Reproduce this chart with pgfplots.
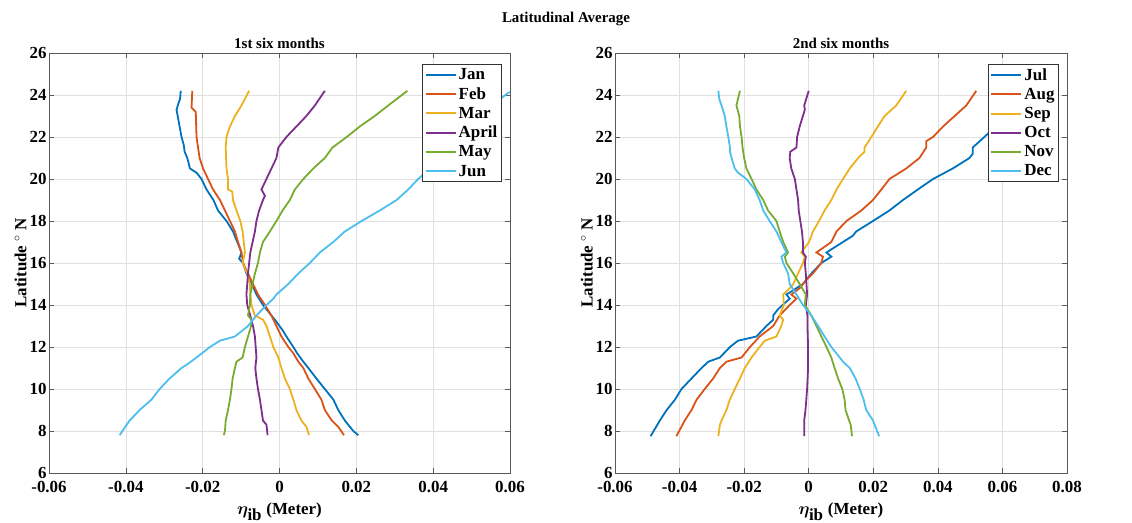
\documentclass[border=0pt]{standalone}
\usepackage{pgfplots}
\pgfplotsset{compat=1.18}
\usepackage{fontspec}
\setmainfont{Liberation Serif}
\usepackage{bm}
\definecolor{c1}{rgb}{0,0.447,0.741}
\definecolor{c2}{rgb}{0.85,0.325,0.098}
\definecolor{c3}{rgb}{0.929,0.694,0.125}
\definecolor{c4}{rgb}{0.494,0.184,0.556}
\definecolor{c5}{rgb}{0.466,0.674,0.188}
\definecolor{c6}{rgb}{0.301,0.745,0.933}
\pgfplotsset{
  myax/.style={
    scale only axis, height=420bp,
    ymin=6, ymax=26, ytick={6,8,...,26},
    scaled x ticks=false, scaled y ticks=false,
    axis line style={black!65, line width=0.8bp},
    tick style={black!65, line width=0.6bp},
    major tick length=5bp,
    tick align=inside,
    grid=major, grid style={black!12, line width=0.5bp},
    /pgf/number format/assume math mode=true,
    tick label style={font=\fontsize{17}{17}\selectfont\bfseries},
    xticklabel style={yshift=-5bp},
    yticklabel style={xshift=1bp},
    label style={font=\fontsize{17}{17}\selectfont\bfseries},
    title style={font=\fontsize{15}{15}\selectfont\bfseries, yshift=-5bp},
    xlabel={$\bm{\eta}_{\textbf{ib}}$ (Meter)},
    ylabel={Latitude $^\circ$ N},
    xlabel style={yshift=-3bp},
    ylabel style={yshift=-4bp},
    legend style={at={(0.982,0.974)}, anchor=north east, draw=black!80, line width=0.8bp,
      font=\fontsize{17}{18}\selectfont\bfseries, row sep=2.5bp, inner sep=2bp,
      cells={anchor=west}},
    legend image code/.code={\draw[#1, line width=2bp] (0bp,0bp) -- (30bp,0bp);},
    every axis plot/.append style={line width=1.8bp, no marks},
  }
}
\begin{document}
\begin{tikzpicture}[x=1bp,y=1bp]
\useasboundingbox (0,0) rectangle (1132,523);
\node[font=\fontsize{15}{15}\selectfont\bfseries] at (566,504) {Latitudinal Average};
\begin{axis}[myax, at={(49bp,50bp)}, anchor=south west, width=461bp,
  xmin=-0.06, xmax=0.06, xtick={-0.06,-0.04,-0.02,0,0.02,0.04,0.06},
  xticklabels={-0.06,-0.04,-0.02,0,0.02,0.04,0.06},
  title={1st six months}]
\addplot[c1] coordinates {(0.0205,7.8)(0.0192,8)(0.0170,8.5)(0.0153,9)(0.0140,9.5)(0.0118,10)(0.0096,10.5)(0.0075,11)(0.0062,11.3)(0.0046,11.7)(0.0036,12)(0.0018,12.5)(0.0008,12.8)(-0.0008,13.2)(-0.0021,13.5)(-0.0043,14)(-0.0060,14.5)(-0.0072,15)(-0.0086,15.5)(-0.0095,16)(-0.0105,16.2)(-0.0099,16.5)(-0.0110,17)(-0.0121,17.5)(-0.0138,18)(-0.0160,18.5)(-0.0172,19)(-0.0190,19.5)(-0.0203,20)(-0.0216,20.3)(-0.0233,20.5)(-0.0240,21)(-0.0247,21.3)(-0.0249,21.6)(-0.0255,22)(-0.0262,22.7)(-0.0268,23.3)(-0.0263,23.6)(-0.0259,23.8)(-0.0257,24.2)};
\addplot[c2] coordinates {(0.0168,7.8)(0.0153,8.2)(0.0136,8.5)(0.0118,9)(0.0109,9.5)(0.0092,10)(0.0075,10.5)(0.0062,11)(0.0049,11.3)(0.0036,11.7)(0.0023,12)(0.0005,12.5)(-0.0008,13)(-0.0021,13.5)(-0.0038,14)(-0.0056,14.5)(-0.0069,15)(-0.0082,15.5)(-0.0095,16)(-0.0099,16.5)(-0.0108,17)(-0.0116,17.5)(-0.0129,18)(-0.0142,18.5)(-0.0155,19)(-0.0173,19.5)(-0.0186,20)(-0.0199,20.5)(-0.0208,21)(-0.0212,21.5)(-0.0216,22)(-0.0217,22.6)(-0.0218,23.2)(-0.0229,23.4)(-0.0228,23.8)(-0.0227,24.2)};
\addplot[c3] coordinates {(0.0077,7.8)(0.0070,8.2)(0.0057,8.5)(0.0044,9)(0.0036,9.5)(0.0027,10)(0.0014,10.5)(0.0005,11)(-0.0003,11.5)(-0.0016,12)(-0.0025,12.5)(-0.0034,13)(-0.0043,13.3)(-0.0064,13.5)(-0.0073,14)(-0.0076,14.5)(-0.0077,15)(-0.0084,15.5)(-0.0096,16)(-0.0090,16.5)(-0.0093,17)(-0.0096,17.5)(-0.0102,18)(-0.0112,18.5)(-0.0121,19)(-0.0123,19.4)(-0.0134,19.5)(-0.0134,20)(-0.0138,20.5)(-0.0140,21.5)(-0.0138,22)(-0.0129,22.5)(-0.0116,23)(-0.0099,23.5)(-0.0079,24.2)};
\addplot[c4] coordinates {(-0.0031,7.8)(-0.0034,8.3)(-0.0043,8.5)(-0.0047,9)(-0.0051,9.5)(-0.0056,10)(-0.0060,10.5)(-0.0063,11)(-0.0060,11.5)(-0.0062,12)(-0.0064,12.5)(-0.0069,13)(-0.0076,13.5)(-0.0084,14)(-0.0086,14.5)(-0.0084,15)(-0.0082,15.5)(-0.0079,16)(-0.0076,16.5)(-0.0070,17)(-0.0064,17.5)(-0.0060,18)(-0.0053,18.5)(-0.0043,19)(-0.0038,19.2)(-0.0047,19.5)(-0.0034,20)(-0.0021,20.5)(-0.0008,21)(-0.0003,21.5)(0.0018,22)(0.0044,22.5)(0.0070,23)(0.0092,23.5)(0.0118,24.2)};
\addplot[c5] coordinates {(-0.0145,7.8)(-0.0142,8)(-0.0140,8.5)(-0.0134,9)(-0.0129,9.5)(-0.0125,10)(-0.0122,10.5)(-0.0116,11)(-0.0112,11.3)(-0.0096,11.5)(-0.0090,12)(-0.0082,12.5)(-0.0074,13)(-0.0073,13.3)(-0.0082,13.5)(-0.0077,14)(-0.0076,14.5)(-0.0070,15)(-0.0064,15.5)(-0.0056,16)(-0.0051,16.5)(-0.0043,17)(-0.0025,17.5)(-0.0008,18)(0.0008,18.5)(0.0027,19)(0.0040,19.5)(0.0062,20)(0.0088,20.5)(0.0118,21)(0.0138,21.5)(0.0175,22)(0.0209,22.5)(0.0248,23)(0.0283,23.5)(0.0333,24.2)};
\addplot[c6] coordinates {(-0.0416,7.8)(-0.0409,8)(-0.0390,8.5)(-0.0364,9)(-0.0333,9.5)(-0.0312,10)(-0.0286,10.5)(-0.0255,11)(-0.0238,11.2)(-0.0216,11.5)(-0.0181,12)(-0.0155,12.3)(-0.0116,12.5)(-0.0082,13)(-0.0060,13.5)(-0.0034,14)(-0.0016,14.3)(-0.0008,14.5)(0.0023,15)(0.0049,15.5)(0.0079,16)(0.0105,16.5)(0.0140,17)(0.0170,17.5)(0.0214,18)(0.0261,18.5)(0.0305,19)(0.0335,19.5)(0.0361,20)(0.0392,20.5)(0.0425,21)(0.0480,22)(0.0535,23)(0.0574,23.8)(0.0595,24.1)(0.0625,24.3)};
\legend{Jan,Feb,Mar,April,May,Jun}
\end{axis}
\begin{axis}[myax, at={(615bp,50bp)}, anchor=south west, width=452bp,
  xmin=-0.06, xmax=0.08, xtick={-0.06,-0.04,-0.02,0,0.02,0.04,0.06,0.08},
  xticklabels={-0.06,-0.04,-0.02,0,0.02,0.04,0.06,0.08},
  title={2nd six months}]
\addplot[c1] coordinates {(-0.0490,7.75)(-0.0461,8.5)(-0.0440,9)(-0.0414,9.5)(-0.0394,10)(-0.0363,10.5)(-0.0332,11)(-0.0311,11.3)(-0.0275,11.5)(-0.0244,12)(-0.0219,12.3)(-0.0162,12.5)(-0.0131,13)(-0.0110,13.3)(-0.0110,13.5)(-0.0095,13.8)(-0.0059,14.3)(-0.0069,14.5)(-0.0038,14.8)(-0.0018,15)(0.0008,15.5)(0.0039,16)(0.0070,16.3)(0.0055,16.5)(0.0106,17)(0.0137,17.3)(0.0147,17.5)(0.0199,18)(0.0250,18.5)(0.0292,19)(0.0338,19.5)(0.0385,20)(0.0446,20.5)(0.0498,21)(0.0508,21.2)(0.0508,21.5)(0.0544,22)(0.0565,22.3)(0.0610,23)(0.0660,23.6)(0.0700,24.2)};
\addplot[c2] coordinates {(-0.0410,7.75)(-0.0384,8.5)(-0.0363,9)(-0.0347,9.5)(-0.0322,10)(-0.0296,10.5)(-0.0275,11)(-0.0255,11.3)(-0.0208,11.5)(-0.0182,12)(-0.0152,12.5)(-0.0110,13)(-0.0090,13.5)(-0.0059,14)(-0.0038,14.3)(-0.0054,14.5)(-0.0028,14.8)(-0.0007,15.2)(0.0013,15.5)(0.0039,16)(0.0044,16.3)(0.0024,16.5)(0.0070,17)(0.0086,17.5)(0.0117,18)(0.0163,18.5)(0.0199,19)(0.0225,19.5)(0.0250,20)(0.0302,20.5)(0.0343,21)(0.0364,21.5)(0.0364,21.8)(0.0385,22)(0.0416,22.5)(0.0452,23)(0.0488,23.5)(0.0519,24.2)};
\addplot[c3] coordinates {(-0.0280,7.75)(-0.0275,8.3)(-0.0270,8.5)(-0.0255,9)(-0.0244,9.5)(-0.0229,10)(-0.0213,10.5)(-0.0198,11)(-0.0177,11.5)(-0.0152,12)(-0.0136,12.3)(-0.0100,12.5)(-0.0085,13)(-0.0079,13.3)(-0.0090,13.5)(-0.0077,14)(-0.0079,14.5)(-0.0059,14.8)(-0.0048,15)(-0.0033,15.5)(-0.0018,16)(-0.0012,16.3)(-0.0023,16.5)(0.0001,17)(0.0013,17.5)(0.0032,18)(0.0049,18.5)(0.0070,19)(0.0086,19.5)(0.0106,20)(0.0127,20.5)(0.0153,21)(0.0173,21.3)(0.0173,21.5)(0.0194,22)(0.0214,22.5)(0.0235,23)(0.0271,23.5)(0.0302,24.2)};
\addplot[c4] coordinates {(-0.0014,7.75)(-0.0014,8.5)(-0.0010,9)(-0.0005,10)(-0.0002,11)(-0.0002,12)(-0.0004,13)(-0.0004,13.5)(-0.0009,14)(-0.0005,14.5)(-0.0007,15)(-0.0009,15.5)(-0.0012,16)(-0.0009,16.3)(-0.0018,16.5)(-0.0018,17)(-0.0021,17.5)(-0.0026,18)(-0.0031,18.5)(-0.0033,19)(-0.0038,19.5)(-0.0043,20)(-0.0054,20.5)(-0.0059,21)(-0.0057,21.3)(-0.0038,21.5)(-0.0036,22)(-0.0028,22.5)(-0.0018,23)(-0.0012,23.3)(-0.0014,23.5)(0.0000,24.2)};
\addplot[c5] coordinates {(0.0134,7.75)(0.0130,8.3)(0.0125,8.5)(0.0114,9)(0.0111,9.5)(0.0104,10)(0.0091,10.5)(0.0080,11)(0.0070,11.5)(0.0055,12)(0.0039,12.5)(0.0024,13)(0.0008,13.5)(-0.0012,14)(-0.0009,14.5)(-0.0028,15)(-0.0048,15.5)(-0.0069,16)(-0.0074,16.3)(-0.0064,16.5)(-0.0079,17)(-0.0090,17.5)(-0.0100,18)(-0.0126,18.5)(-0.0141,19)(-0.0162,19.5)(-0.0177,20)(-0.0193,20.5)(-0.0200,21)(-0.0205,21.5)(-0.0208,22)(-0.0213,22.5)(-0.0215,23)(-0.0224,23.5)(-0.0213,24.2)};
\addplot[c6] coordinates {(0.0218,7.75)(0.0199,8.5)(0.0178,9)(0.0170,9.5)(0.0158,10)(0.0145,10.5)(0.0127,11)(0.0106,11.3)(0.0096,11.5)(0.0070,12)(0.0049,12.5)(0.0029,13)(0.0008,13.5)(-0.0018,14)(-0.0038,14.5)(-0.0059,15)(-0.0064,15.5)(-0.0079,16)(-0.0085,16.3)(-0.0069,16.5)(-0.0085,17)(-0.0100,17.5)(-0.0121,18)(-0.0141,18.5)(-0.0152,19)(-0.0167,19.5)(-0.0193,20)(-0.0219,20.3)(-0.0229,20.5)(-0.0239,21)(-0.0244,21.3)(-0.0244,21.5)(-0.0249,22)(-0.0255,22.5)(-0.0260,23)(-0.0270,23.5)(-0.0277,23.8)(-0.0280,24.2)};
\legend{Jul,Aug,Sep,Oct,Nov,Dec}
\end{axis}
\end{tikzpicture}
\end{document}
